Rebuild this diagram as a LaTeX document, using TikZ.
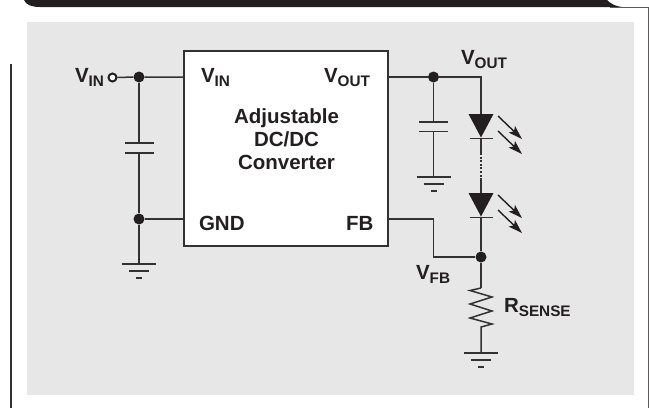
\documentclass[tikz,border=0pt]{standalone}
\usepackage{fontspec}
\setmainfont{Liberation Sans}
\usetikzlibrary{arrows.meta}
\definecolor{ink}{HTML}{231F20}
\definecolor{wire}{HTML}{333132}
\definecolor{panel}{HTML}{E6E7E6}
\newcommand{\lblsub}[3]{{\fontsize{20.5}{23}\selectfont #1}\raisebox{-#3pt}{\fontsize{15.3}{16}\selectfont #2}}
\tikzset{
  x=1pt,y=-1pt,
  wireline/.style={draw=wire,line width=1.5pt},
  lbl/.style={inner sep=0pt,outer sep=0pt,anchor=base west,text=ink,font=\bfseries\fontsize{20.5}{23}\selectfont},
  junction/.style={circle,fill=ink,draw=none,minimum size=11pt,inner sep=0pt},
  terminal/.style={circle,fill=white,draw=ink,line width=2pt,minimum size=8pt,inner sep=0pt},
  chip/.style={draw=wire,fill=white,line width=1.8pt,minimum width=204pt,minimum height=195pt,inner sep=0pt},
  ledbody/.style={fill=ink,draw=none},
  rayarrow/.style={draw=ink,line width=1.4pt,-{Stealth[length=14pt,width=9pt,inset=3pt]}},
}
\begin{document}
\begin{tikzpicture}
\useasboundingbox (0,0) rectangle (649,408);
% page furniture
\fill[panel] (27,22) rectangle (634,395);
\fill[ink] (24,0) .. controls (26,5) and (32,7) .. (40,7) -- (622,7) .. controls (614,6) and (610,3) .. (607,0) -- cycle;
\draw[draw=wire!80,line width=0.8pt] (610,7) -- (648,7) -- (648,408);
\draw[draw=wire,line width=1.1pt] (11,64) -- (11,408);
% converter
\node[chip] (conv) at (286,148.5) {};
\node[lbl] (pvin) at (201,82) {\lblsub{V}{IN}{4.5}};
\node[lbl] (pvout) at (324,82) {\lblsub{V}{OUT}{4.5}};
\node[lbl] (pgnd) at (199,230) {GND};
\node[lbl] (pfb) at (346,230) {FB};
\node[inner sep=0pt,align=center,text=ink,font=\bfseries\fontsize{20.5}{23}\selectfont] (title) at (286.5,139) {Adjustable\\DC/DC\\Converter};
% named points
\coordinate (cinL) at (184,77);
\coordinate (cgndL) at (184,219);
\coordinate (coutR) at (388,77);
\coordinate (cfbR) at (388,219);
\node[terminal] (vin) at (112.5,77.5) {};
\node[junction] (j1) at (139,77) {};
\node[junction] (j2) at (139,219) {};
\node[junction] (j3) at (433.5,77) {};
\node[junction] (j4) at (481,257) {};
\coordinate (c1a) at (139,143); \coordinate (c1b) at (139,153);
\coordinate (g1) at (139,264);
\coordinate (c2a) at (433.5,122); \coordinate (c2b) at (433.5,131.5);
\coordinate (g2) at (433.5,177);
\coordinate (ltop) at (481,77);
\coordinate (l1a) at (481,114); \coordinate (l1k) at (481,138.5);
\coordinate (d1) at (481,153); \coordinate (d2) at (481,179);
\coordinate (l2a) at (481,193); \coordinate (l2k) at (481,217.5);
\coordinate (fbc) at (433.5,219); \coordinate (fbd) at (433.5,257);
\coordinate (r1) at (481,288); \coordinate (r2) at (481,327);
\coordinate (g3) at (481,353);
% wires
\draw[wireline] (vin) -- (j1) -- (cinL);
\draw[wireline] (j1) -- (c1a);
\draw[wireline] (c1b) -- (j2) -- (g1);
\draw[wireline] (j2) -- (cgndL);
\draw[wireline] (coutR) -- (j3) -- (ltop) -- (l1a);
\draw[wireline] (j3) -- (c2a);
\draw[wireline] (c2b) -- (g2);
\draw[wireline] (l1k) -- (d1);
\draw[wireline,dash pattern=on 2pt off 1.6pt,line width=1.7pt] (d1) -- (d2);
\draw[wireline] (d2) -- (l2a);
\draw[wireline] (l2k) -- (j4);
\draw[wireline] (cfbR) -- (fbc) -- (fbd) -- (j4);
\draw[wireline] (j4) -- (r1);
\draw[wireline,line join=miter] (r1) -- (470,290.5) -- (492,297) -- (470,304) -- (492,311) -- (470,318) -- (492,324) -- (r2) -- (g3);
% capacitors
\foreach \c in {c1a,c1b,c2a,c2b}{
  \draw[wireline] ([xshift=-14.5pt]\c) -- ([xshift=14.5pt]\c);
}
% grounds
\foreach \g in {g1,g2,g3}{
  \draw[wireline] ([xshift=-17pt]\g) -- ([xshift=17pt]\g);
  \draw[wireline] ([xshift=-10pt,yshift=-7pt]\g) -- ([xshift=10pt,yshift=-7pt]\g);
  \draw[wireline] ([xshift=-3pt,yshift=-14pt]\g) -- ([xshift=3pt,yshift=-14pt]\g);
}
% LEDs
\foreach \a/\k in {l1a/l1k,l2a/l2k}{
  \fill[ledbody] ([xshift=-12.5pt]\a) -- ([xshift=12.5pt]\a) -- ([yshift=1pt]\k) -- cycle;
  \draw[wireline] ([xshift=-11.5pt]\k) -- ([xshift=11.5pt]\k);
}
\foreach \y in {116,131,195,210}{
  \draw[rayarrow] (498,\y) -- (522,\y+23);
}
% labels
\node[lbl] (tvin) at (75,82) {\lblsub{V}{IN}{4.5}};
\node[lbl] (tvout) at (461,64) {\lblsub{V}{OUT}{4.5}};
\node[lbl] (tvfb) at (416,279) {\lblsub{V}{FB}{4.5}};
\node[lbl] (trs) at (504,312) {\lblsub{R}{SENSE}{4.5}};
\end{tikzpicture}
\end{document}
